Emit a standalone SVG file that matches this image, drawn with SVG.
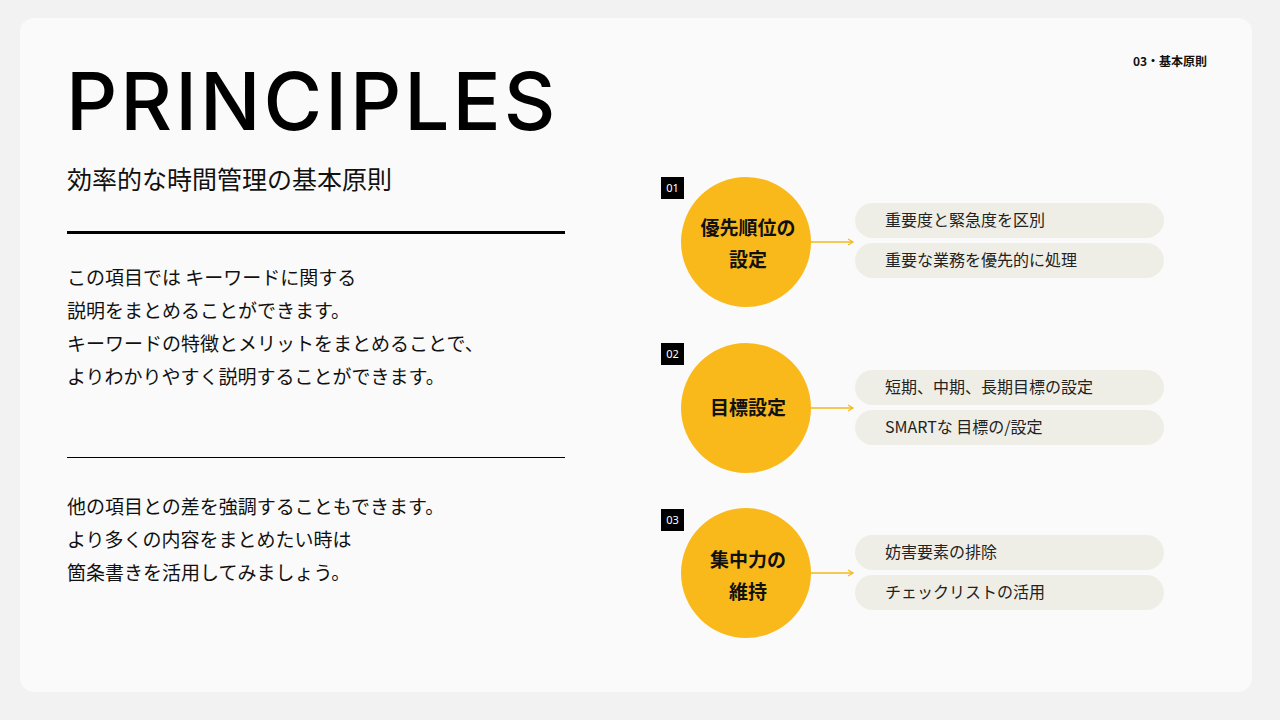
<svg xmlns="http://www.w3.org/2000/svg" width="1280" height="720" viewBox="0 0 1280 720">
<defs>
<style>
.t{font-family:"Noto Sans CJK JP","Noto Sans",sans-serif;fill:#111}
.body{font-size:19px}
.pill{fill:#efeee6}
.pt{font-family:"Noto Sans CJK JP","Noto Sans",sans-serif;font-size:16px;fill:#222}
.circ{fill:#f9b91b}
.ct{font-family:"Noto Sans CJK JP",sans-serif;font-size:19px;font-weight:bold;fill:#111;text-anchor:middle}
.badge{fill:#000}
.bt{font-family:"Noto Sans",sans-serif;font-size:11px;fill:#fff;text-anchor:middle}
.conn{stroke:#f5b81c;stroke-width:1.5;fill:none}
</style>
<marker id="ar" markerWidth="8" markerHeight="8" refX="6" refY="4" orient="auto" markerUnits="userSpaceOnUse"><path d="M1,1 L6,4 L1,7" fill="none" stroke="#f5b81c" stroke-width="1.2"/></marker>
</defs>
<rect width="1280" height="720" fill="#f2f2f2"/>
<rect x="20" y="18" width="1232" height="674" rx="14" fill="#fafafa"/>
<text x="66" y="130" font-family="Inter,'Noto Sans',sans-serif" font-size="80" font-weight="500" letter-spacing="3" fill="#000">PRINCIPLES</text>
<text x="1170" y="66" class="t" font-size="12" font-weight="bold" text-anchor="middle">03・基本原則</text>
<text x="67" y="189" class="t" font-size="25">効率的な時間管理の基本原則</text>
<rect x="67" y="231" width="498" height="3" fill="#000"/>
<text class="t body"><tspan x="67" y="285">この項目では キーワードに関する</tspan><tspan x="67" y="318">説明をまとめることができます。</tspan><tspan x="67" y="351">キーワードの特徴とメリットをまとめることで、</tspan><tspan x="67" y="384">よりわかりやすく説明することができます。</tspan></text>
<rect x="67" y="457" width="498" height="1" fill="#000"/>
<text class="t body"><tspan x="67" y="514">他の項目との差を強調することもできます。</tspan><tspan x="67" y="547">より多くの内容をまとめたい時は</tspan><tspan x="67" y="580">箇条書きを活用してみましょう。</tspan></text>
<g id="connectors">
<line class="conn" x1="810" y1="242" x2="853" y2="242" marker-end="url(#ar)"/>
<line class="conn" x1="810" y1="408" x2="853" y2="408" marker-end="url(#ar)"/>
<line class="conn" x1="810" y1="573" x2="853" y2="573" marker-end="url(#ar)"/>
</g>
<g id="node1">
<rect class="badge" x="661" y="177" width="23" height="22"/><text class="bt" x="672.5" y="192">01</text>
<circle class="circ" cx="746" cy="242" r="65"/>
<text class="ct" x="748" y="235">優先順位の</text><text class="ct" x="748" y="267">設定</text>
<rect class="pill" x="855" y="203" width="309" height="35" rx="17.5"/><text class="pt" x="885" y="226">重要度と緊急度を区別</text>
<rect class="pill" x="855" y="243" width="309" height="35" rx="17.5"/><text class="pt" x="885" y="266">重要な業務を優先的に処理</text>
</g>
<g id="node2">
<rect class="badge" x="661" y="343" width="23" height="22"/><text class="bt" x="672.5" y="358">02</text>
<circle class="circ" cx="746" cy="408" r="65"/>
<text class="ct" x="748" y="415">目標設定</text>
<rect class="pill" x="855" y="370" width="309" height="35" rx="17.5"/><text class="pt" x="885" y="393">短期、中期、長期目標の設定</text>
<rect class="pill" x="855" y="410" width="309" height="35" rx="17.5"/><text class="pt" x="885" y="433">SMARTな 目標の/設定</text>
</g>
<g id="node3">
<rect class="badge" x="661" y="509" width="23" height="22"/><text class="bt" x="672.5" y="524">03</text>
<circle class="circ" cx="746" cy="573" r="65"/>
<text class="ct" x="748" y="567">集中力の</text><text class="ct" x="748" y="599">維持</text>
<rect class="pill" x="855" y="535" width="309" height="35" rx="17.5"/><text class="pt" x="885" y="558">妨害要素の排除</text>
<rect class="pill" x="855" y="575" width="309" height="35" rx="17.5"/><text class="pt" x="885" y="598">チェックリストの活用</text>
</g>
</svg>
